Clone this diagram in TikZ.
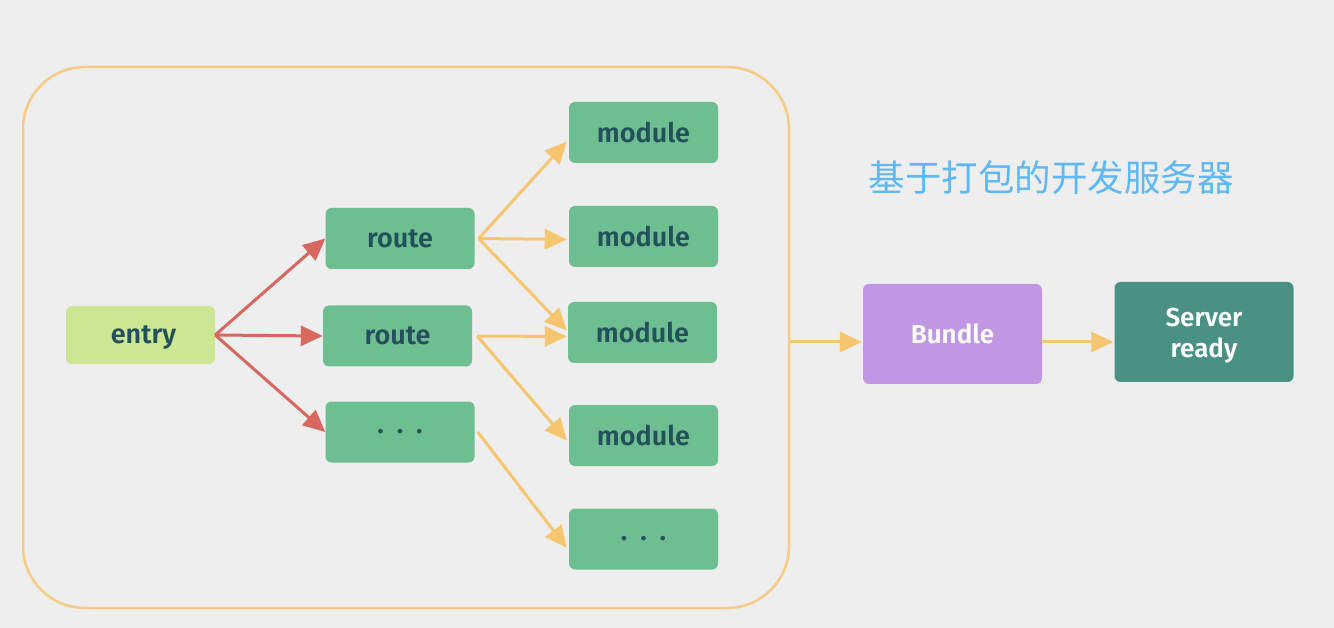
\documentclass[tikz,border=0pt]{standalone}
\usepackage{fontspec}
\setmainfont{Fira Sans}[BoldFont={Fira Sans SemiBold}]
\newfontfamily\cjk{Noto Sans CJK SC}
\usetikzlibrary{arrows.meta}
\definecolor{bg}{HTML}{EEEEEE}
\definecolor{frameor}{HTML}{F6CB85}
\definecolor{arrowor}{HTML}{F5C570}
\definecolor{arrowred}{HTML}{D8675F}
\definecolor{boxgreen}{HTML}{6DBE91}
\definecolor{entrygreen}{HTML}{CDE692}
\definecolor{txtdark}{HTML}{24505B}
\definecolor{bundlepurple}{HTML}{C197E3}
\definecolor{serverteal}{HTML}{4A9185}
\definecolor{titleblue}{HTML}{5DB8F5}
\newcommand{\mydots}{.\hspace{13pt}.\hspace{13pt}.}
\tikzset{
  gbox/.style={rectangle, rounded corners=6pt, fill=boxgreen, text=txtdark,
    minimum width=149pt, minimum height=61pt, inner sep=0pt,
    font=\fontsize{27}{32}\selectfont\bfseries},
  ebox/.style={gbox, fill=entrygreen, minimum height=58pt},
  bigbox/.style={rectangle, rounded corners=6pt, text=white,
    minimum width=179pt, minimum height=100pt, inner sep=0pt,
    font=\fontsize{26}{32}\selectfont\bfseries},
  redarrow/.style={draw=arrowred, line width=3pt,
    -{Triangle[length=22pt,width=20pt]}},
  orarrow/.style={draw=arrowor, line width=3pt,
    -{Triangle[length=22pt,width=20pt]}},
  container/.style={rectangle, draw=frameor, line width=2.5pt,
    rounded corners=62pt, minimum width=766pt, minimum height=541pt, inner sep=0pt},
}
\begin{document}
\begin{tikzpicture}[x=1pt,y=-1pt]
\fill[bg] (0,0) rectangle (1334,628);
\useasboundingbox (0,0) rectangle (1334,628);

\node[container] (frame) at (406,337.5) {};

\node[ebox] (entry) at (140.5,335) {\hspace{6pt}\raisebox{-3pt}[\height][\depth]{entry}};
\node[gbox] (r1) at (400,238.5) {route};
\node[gbox] (r2) at (397.5,336) {route};
\node[gbox] (r3) at (400,432) {\mydots};

\node[gbox] (m1) at (643.5,132.5) {module};
\node[gbox] (m2) at (643.5,236.5) {module};
\node[gbox] (m3) at (642.5,332.5) {module};
\node[gbox] (m4) at (643.5,435.5) {module};
\node[gbox] (m5) at (643.5,539) {\mydots};

\node[bigbox, fill=bundlepurple] (bundle) at (952.5,334) {Bundle};
\node[bigbox, fill=serverteal] (server) at (1204,332) {\raisebox{-4pt}[\height][\depth]{\begin{tabular}{@{}c@{}}Server\\[-1pt]ready\end{tabular}}};

\node[text=titleblue, font=\cjk\fontsize{36.5}{40}\selectfont, anchor=center] (title) at (1051,178) {基于打包的开发服务器};

\draw[redarrow] (entry.east) -- (r1.west);
\draw[redarrow] (entry.east) -- (r2.west);
\draw[redarrow] (entry.east) -- (r3.west);

\coordinate (r1o) at ([xshift=4pt]r1.east);
\coordinate (r2o) at ([xshift=5pt]r2.east);
\coordinate (r3o) at ([xshift=3pt]r3.east);
\draw[orarrow] (r1o) -- ([yshift=-9pt,xshift=-2pt]m1.west);
\draw[orarrow] (r1o) -- ([yshift=-3pt,xshift=-2pt]m2.west);
\draw[orarrow] (r1o) -- ([yshift=2pt,xshift=-1pt]m3.west);
\draw[orarrow] (r2o) -- ([yshift=-4pt,xshift=-1pt]m3.west);
\draw[orarrow] (r2o) -- ([yshift=-5pt,xshift=-2pt]m4.west);
\draw[orarrow] (r3o) -- ([yshift=-9pt,xshift=-2pt]m5.west);

\draw[orarrow] ([yshift=-4.5pt]frame.east) -- ([yshift=-8pt,xshift=-1pt]bundle.west);
\draw[orarrow] ([yshift=-8pt]bundle.east) -- ([yshift=-10pt,xshift=-1pt]server.west);
\end{tikzpicture}
\end{document}
